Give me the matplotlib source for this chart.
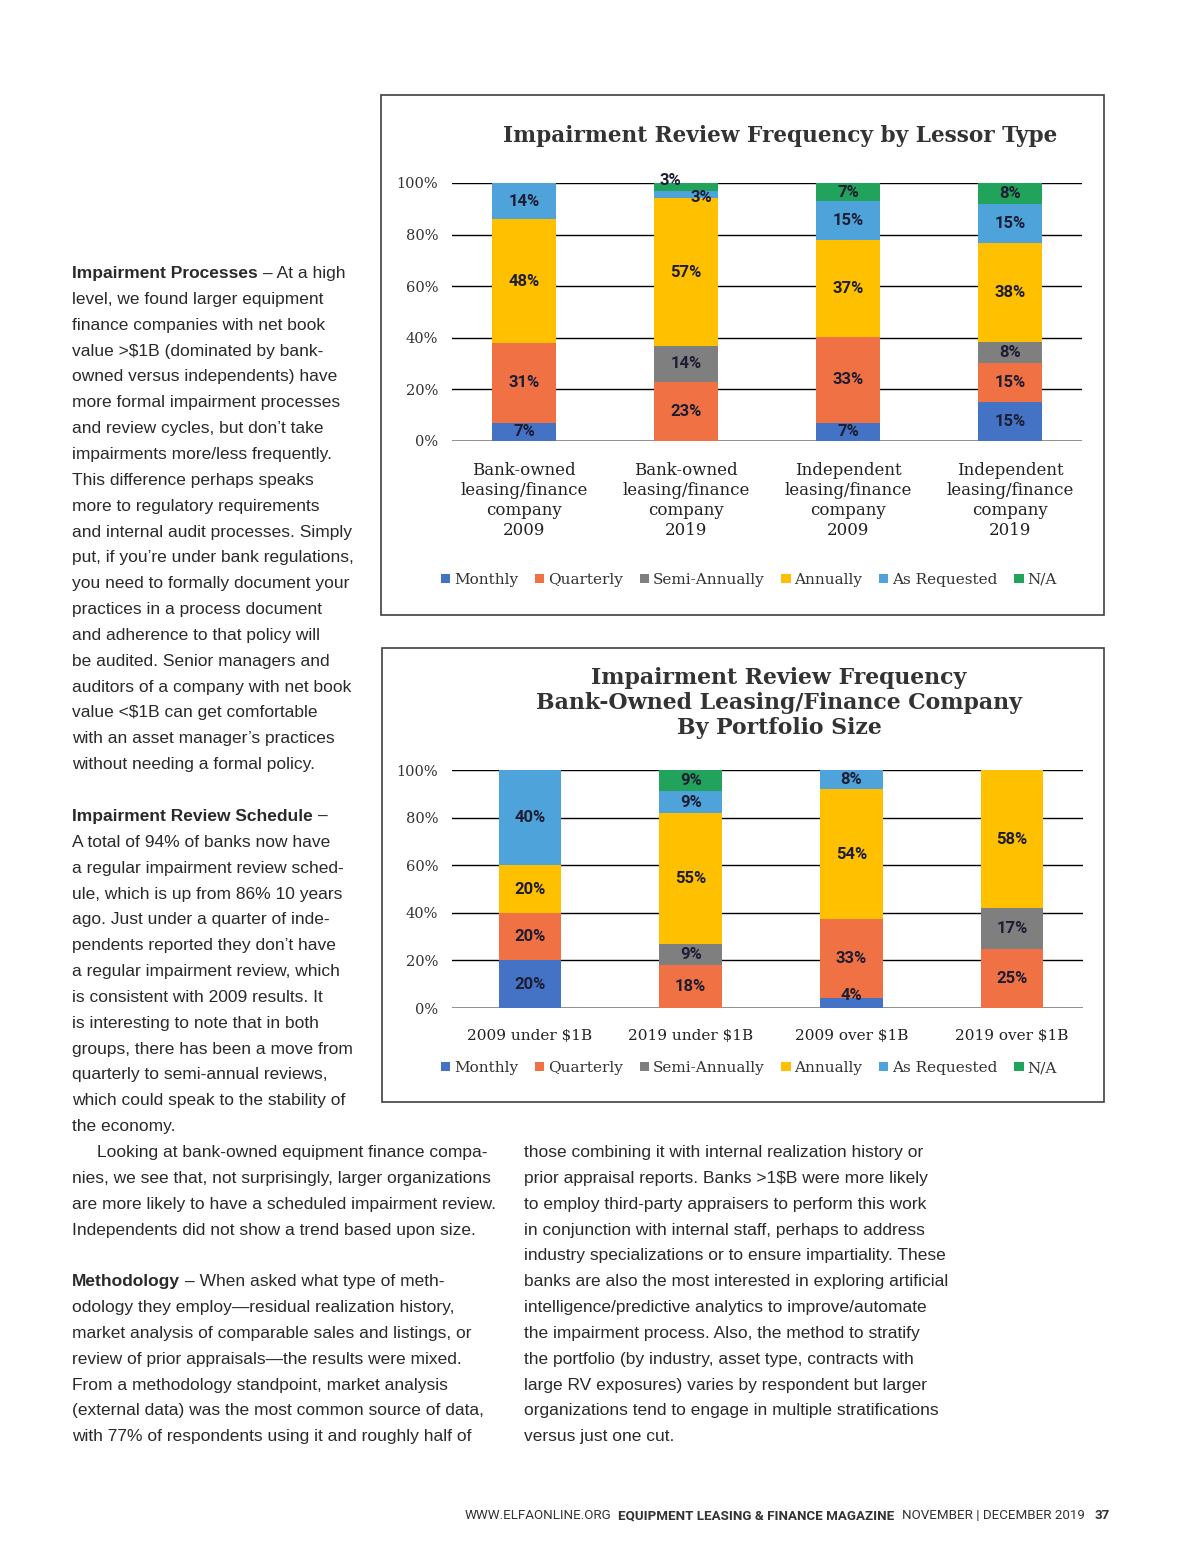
"""Magazine page: impairment review frequency charts with surrounding article text."""

import numpy as np
import matplotlib
matplotlib.use("Agg")
import matplotlib.pyplot as plt
from matplotlib.patches import Rectangle, Patch

plt.rcParams['text.parse_math'] = False

W, H = 1200, 1558

# ---- chart data -------------------------------------------------------------
series = ["Monthly", "Quarterly", "Semi-Annually", "Annually", "As Requested", "N/A"]
series_colors = ["#4472C4", "#F07143", "#7F7F7F", "#FFC000", "#4FA3DB", "#22A35B"]

lessor_types = [
    "Bank-owned\nleasing/finance\ncompany\n2009",
    "Bank-owned\nleasing/finance\ncompany\n2019",
    "Independent\nleasing/finance\ncompany\n2009",
    "Independent\nleasing/finance\ncompany\n2019",
]
lessor_monthly = [7, 0, 7, 15]
lessor_quarterly = [31, 23, 33, 15]
lessor_semi = [0, 14, 0, 8]
lessor_annually = [48, 57, 37, 38]
lessor_requested = [14, 3, 15, 15]
lessor_na = [0, 3, 7, 8]

size_groups = ["2009 under $1B", "2019 under $1B", "2009 over $1B", "2019 over $1B"]
size_monthly = [20, 0, 4, 0]
size_quarterly = [20, 18, 33, 25]
size_semi = [0, 9, 0, 17]
size_annually = [20, 55, 54, 58]
size_requested = [40, 9, 8, 0]
size_na = [0, 9, 0, 0]

y_ticks = [0, 20, 40, 60, 80, 100]

# ---- article text -----------------------------------------------------------
processes_lines = [
    [("Impairment Processes", "bold"), (" – At a high", "normal")],
    "level, we found larger equipment",
    "finance companies with net book",
    "value >$1B (dominated by bank-",
    "owned versus independents) have",
    "more formal impairment processes",
    "and review cycles, but don’t take",
    "impairments more/less frequently.",
    "This difference perhaps speaks",
    "more to regulatory requirements",
    "and internal audit processes. Simply",
    "put, if you’re under bank regulations,",
    "you need to formally document your",
    "practices in a process document",
    "and adherence to that policy will",
    "be audited. Senior managers and",
    "auditors of a company with net book",
    "value <$1B can get comfortable",
    "with an asset manager’s practices",
    "without needing a formal policy.",
]
schedule_lines = [
    [("Impairment Review Schedule", "bold"), (" –", "normal")],
    "A total of 94% of banks now have",
    "a regular impairment review sched-",
    "ule, which is up from 86% 10 years",
    "ago. Just under a quarter of inde-",
    "pendents reported they don’t have",
    "a regular impairment review, which",
    "is consistent with 2009 results. It",
    "is interesting to note that in both",
    "groups, there has been a move from",
    "quarterly to semi-annual reviews,",
    "which could speak to the stability of",
    "the economy.",
]
bottom_left_lines = [
    "Looking at bank-owned equipment finance compa-",
    "nies, we see that, not surprisingly, larger organizations",
    "are more likely to have a scheduled impairment review.",
    "Independents did not show a trend based upon size.",
    "",
    [("Methodology", "bold"), (" – When asked what type of meth-", "normal")],
    "odology they employ—residual realization history,",
    "market analysis of comparable sales and listings, or",
    "review of prior appraisals—the results were mixed.",
    "From a methodology standpoint, market analysis",
    "(external data) was the most common source of data,",
    "with 77% of respondents using it and roughly half of",
]
bottom_right_lines = [
    "those combining it with internal realization history or",
    "prior appraisal reports. Banks >1$B were more likely",
    "to employ third-party appraisers to perform this work",
    "in conjunction with internal staff, perhaps to address",
    "industry specializations or to ensure impartiality. These",
    "banks are also the most interested in exploring artificial",
    "intelligence/predictive analytics to improve/automate",
    "the impairment process. Also, the method to stratify",
    "the portfolio (by industry, asset type, contracts with",
    "large RV exposures) varies by respondent but larger",
    "organizations tend to engage in multiple stratifications",
    "versus just one cut.",
]
footer_runs = [("WWW.ELFAONLINE.ORG", "normal"), ("  EQUIPMENT LEASING & FINANCE MAGAZINE", "bold"),
               ("  NOVEMBER | DECEMBER 2019", "normal"), ("   37", "bold")]

BODY_FONT = ["Liberation Sans", "DejaVu Sans"]
BODY_SIZE = 12.5
BODY_COLOR = "#2a2a2a"
LINE_STEP = 25.85
SERIF = ["DejaVu Serif"]
LABEL_FONT = ["Liberation Sans Narrow", "Roboto", "DejaVu Sans"]

fig = plt.figure(figsize=(W / 100, H / 100), dpi=100)
page = fig.add_axes([0, 0, 1, 1], zorder=0)
page.set_xlim(0, W)
page.set_ylim(H, 0)
page.axis("off")
renderer = fig.canvas.get_renderer()


def text_width(s, **kw):
    t = page.text(0, 0, s, **kw)
    w = t.get_window_extent(renderer).width
    t.remove()
    return w


def draw_runs(x, y, runs, family, size, color):
    """Draw runs of differently weighted text one after another on a baseline."""
    for s, weight in runs:
        lead = len(s) - len(s.lstrip(" "))
        if lead:
            sp = text_width("x x", family=family, size=size, fontweight=weight) - \
                text_width("xx", family=family, size=size, fontweight=weight)
            x += sp * lead
        t = page.text(x, y, s.lstrip(" "), family=family, size=size, fontweight=weight,
                      color=color, va="baseline", ha="left")
        x += t.get_window_extent(renderer).width


def draw_block(x, y0, lines, indent_first=0):
    for i, line in enumerate(lines):
        y = y0 + i * LINE_STEP + 5
        if not line:
            continue
        runs = line if isinstance(line, list) else [(line, "normal")]
        draw_runs(x + (indent_first if i == 0 else 0), y, runs, BODY_FONT, BODY_SIZE, BODY_COLOR)


def px_axes(left, top, right, bottom):
    return fig.add_axes([left / W, 1 - bottom / H, (right - left) / W, (bottom - top) / H], zorder=2)


# small labels Excel had moved off their segments (chart, bar, series) -> pixel offset
label_nudges = {("lessor", 1, 5): (-16, 6), ("lessor", 1, 4): (15, -3), ("size", 2, 0): (0, 8)}


def stacked_chart(ax, key, cats, stacks, x0, unit, left_px, right_px, cat_size, cat_spacing, cat_pad):
    values = np.array(stacks, dtype=float)
    shares = values / values.sum(axis=0) * 100  # 100% stacked column
    x = np.arange(len(cats))
    bottom = np.zeros(len(cats))
    for i, (name, color) in enumerate(zip(series, series_colors)):
        ax.bar(x, shares[i], 0.39, bottom=bottom, color=color, zorder=3, linewidth=0)
        for j in range(len(cats)):
            if values[i, j] > 0:
                dx, dy = label_nudges.get((key, j, i), (0, 0))
                ax.annotate(f"{values[i, j]:.0f}%", (x[j], bottom[j] + shares[i, j] / 2),
                            xytext=(dx, dy), textcoords="offset pixels", ha="center",
                            va="center", family=LABEL_FONT, fontweight="bold", size=12,
                            color="#1d1d33", zorder=5, annotation_clip=False)
        bottom += shares[i]
    ax.set_xlim((left_px - x0) / unit, (right_px - x0) / unit)
    ax.set_ylim(0, 100)
    ax.set_yticks(y_ticks)
    ax.set_yticklabels([f"{v}%" for v in y_ticks], family=SERIF, size=10.5, color="#333333")
    ax.set_xticks(x)
    ax.set_xticklabels(cats, family=SERIF, size=cat_size, color="#222222", linespacing=cat_spacing)
    ax.tick_params(axis="y", length=0, pad=10)
    ax.tick_params(axis="x", length=0, pad=cat_pad)
    ax.yaxis.grid(True, color="black", linewidth=1)
    ax.set_axisbelow(True)
    ax.axhline(0, color="#8c8c8c", linewidth=2, zorder=2)
    for sp in ax.spines.values():
        sp.set_visible(False)
    ax.set_facecolor("none")


def chart_legend(ax, cx, cy):
    handles = [Patch(facecolor=c, edgecolor="none", label=s) for s, c in zip(series, series_colors)]
    ax.legend(handles=handles, loc="center", bbox_to_anchor=(cx / W, 1 - cy / H),
              bbox_transform=fig.transFigure, ncol=6, frameon=False, handlelength=0.6,
              handleheight=0.6, handletextpad=0.25, columnspacing=1.1,
              prop=dict(family=SERIF, size=11), labelcolor="#333333")


# ---- frames -----------------------------------------------------------------
page.add_patch(Rectangle((381, 95), 723, 520, fill=False, edgecolor="#404040", linewidth=1.2))
page.add_patch(Rectangle((382, 648), 722, 454, fill=False, edgecolor="#404040", linewidth=1.2))

# ---- chart 1 ----------------------------------------------------------------
page.text(780, 136, "Impairment Review Frequency by Lessor Type", family=SERIF,
          fontweight="bold", size=15.6, color="#333333", ha="center", va="center")
ax1 = px_axes(452, 183, 1082, 441)
stacked_chart(ax1, "lessor", lessor_types,
              [lessor_monthly, lessor_quarterly, lessor_semi, lessor_annually, lessor_requested, lessor_na],
              524, 162, 452, 1082, 12, 1.23, 15)
chart_legend(ax1, 749, 580)

# ---- chart 2 ----------------------------------------------------------------
page.text(779, 703, "Impairment Review Frequency\nBank-Owned Leasing/Finance Company\nBy Portfolio Size",
          family=SERIF, fontweight="bold", size=15.8, color="#333333", ha="center", va="center",
          linespacing=1.2)
ax2 = px_axes(452, 770, 1083, 1008)
stacked_chart(ax2, "size", size_groups,
              [size_monthly, size_quarterly, size_semi, size_annually, size_requested, size_na],
              530, 160.7, 452, 1083, 11, 1.2, 15)
chart_legend(ax2, 749, 1068)

# ---- article text -----------------------------------------------------------
draw_block(72, 273, processes_lines)
draw_block(72, 816, schedule_lines)
draw_block(72, 1152, bottom_left_lines, indent_first=25)
draw_block(524, 1152, bottom_right_lines)

# footer
draw_runs(465, 1519, footer_runs, ["Liberation Sans Narrow", "Roboto", "DejaVu Sans"], 9.6, "#333333")

fig.savefig("out.png", dpi=100)
plt.close(fig)
